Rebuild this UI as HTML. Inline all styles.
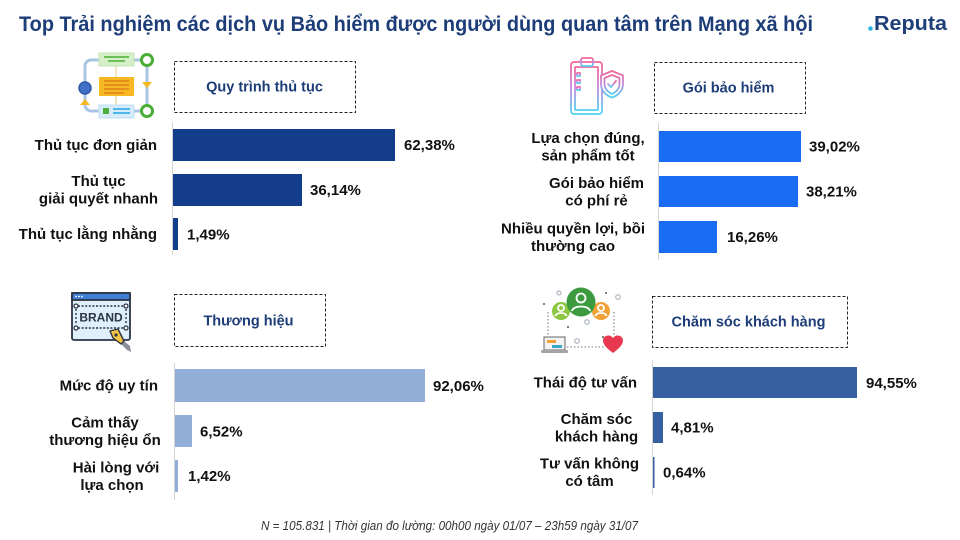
<!DOCTYPE html>
<html>
<head>
<meta charset="utf-8">
<style>
  html,body{margin:0;padding:0;background:#fff;}
  body{width:960px;height:540px;overflow:hidden;}
  svg{display:block;}
  text{font-family:"Liberation Sans","Noto Sans CJK SC",sans-serif;}
  .lbl{font-size:15px;font-weight:bold;fill:#111;}
  .val{font-size:15px;font-weight:bold;fill:#111;}
  .box{font-size:14.5px;font-weight:bold;fill:#1d3d78;}
</style>
</head>
<body>
<svg width="960" height="540" viewBox="0 0 960 540" xmlns="http://www.w3.org/2000/svg">
  <defs>
    <linearGradient id="gpink" x1="0" y1="0" x2="0" y2="1">
      <stop offset="0" stop-color="#f0679a"/>
      <stop offset="0.5" stop-color="#c58bdc"/>
      <stop offset="1" stop-color="#4fd2f0"/>
    </linearGradient>
  </defs>
  <rect width="960" height="540" fill="#fff"/>

  <!-- Title -->
  <text x="19" y="31" font-size="21" font-weight="bold" fill="#1d3d78" textLength="794" lengthAdjust="spacingAndGlyphs">Top Trải nghiệm các dịch vụ Bảo hiểm được người dùng quan tâm trên Mạng xã hội</text>

  <!-- Logo -->
  <circle cx="870.5" cy="28.5" r="2.3" fill="#2bb5e5"/>
  <text x="874" y="30" font-size="20" font-weight="bold" fill="#1e3f78" textLength="73" lengthAdjust="spacingAndGlyphs">Reputa</text>

  <!-- ============ Panel 1 ============ -->
  <!-- icon -->
  <g>
    <rect x="85" y="60" width="62" height="51" rx="6" fill="none" stroke="#a9c5e3" stroke-width="3"/>
    <line x1="116" y1="66" x2="116" y2="105" stroke="#f1dcae" stroke-width="1.5"/>
    <rect x="99" y="53" width="35" height="13" fill="#d6efc9" stroke="#c3e3b5" stroke-width="1"/>
    <line x1="104" y1="57" x2="129" y2="57" stroke="#5cb947" stroke-width="1.8"/>
    <line x1="108" y1="61" x2="125" y2="61" stroke="#5cb947" stroke-width="1.8"/>
    <rect x="99" y="77" width="35" height="19" fill="#f6b823"/>
    <line x1="104" y1="81" x2="129" y2="81" stroke="#e0801c" stroke-width="1.6"/>
    <line x1="104" y1="85" x2="129" y2="85" stroke="#e0801c" stroke-width="1.6"/>
    <line x1="104" y1="89" x2="129" y2="89" stroke="#e0801c" stroke-width="1.6"/>
    <line x1="104" y1="93" x2="124" y2="93" stroke="#e0801c" stroke-width="1.6"/>
    <rect x="99" y="105" width="35" height="13" fill="#d6ecfa" stroke="#c2def0" stroke-width="1"/>
    <rect x="103" y="108" width="6" height="6" fill="#4caf3a"/>
    <line x1="113" y1="109" x2="130" y2="109" stroke="#38b2e6" stroke-width="1.8"/>
    <line x1="113" y1="113" x2="130" y2="113" stroke="#38b2e6" stroke-width="1.8"/>
    <circle cx="147" cy="60" r="5.5" fill="#fff" stroke="#4aad35" stroke-width="3"/>
    <circle cx="147" cy="111" r="5.5" fill="#fff" stroke="#4aad35" stroke-width="3"/>
    <circle cx="85" cy="88" r="6" fill="#3f72c4" stroke="#2e5aa8" stroke-width="1.5"/>
    <polygon points="142,82 152,82 147,88" fill="#f5b820"/>
    <polygon points="80,105 90,105 85,99" fill="#f5b820"/>
  </g>
  <rect x="174.5" y="61.5" width="181" height="51" fill="none" stroke="#222" stroke-width="1" stroke-dasharray="3 2"/>
  <text class="box" x="264.5" y="91.5" text-anchor="middle">Quy trình thủ tục</text>
  <line x1="172.5" y1="122" x2="172.5" y2="255" stroke="#d4d4d4" stroke-width="1"/>
  <rect x="173" y="129" width="222" height="32" fill="#133d8b"/>
  <rect x="173" y="174" width="129" height="32" fill="#133d8b"/>
  <rect x="173" y="218" width="5" height="32" fill="#133d8b"/>
  <text class="lbl" x="157" y="150" text-anchor="end">Thủ tục đơn giản</text>
  <text class="lbl" x="98.5" y="186" text-anchor="middle">Thủ tục</text>
  <text class="lbl" x="98.5" y="203.5" text-anchor="middle">giải quyết nhanh</text>
  <text class="lbl" x="157" y="239" text-anchor="end">Thủ tục lằng nhằng</text>
  <text class="val" x="404" y="150">62,38%</text>
  <text class="val" x="310" y="195">36,14%</text>
  <text class="val" x="187" y="239.5">1,49%</text>

  <!-- ============ Panel 2 ============ -->
  <g fill="none" stroke="url(#gpink)" stroke-width="1.8" stroke-linejoin="round" stroke-linecap="round">
    <rect x="571" y="62" width="31" height="52" rx="3"/>
    <rect x="575" y="67" width="23" height="43" rx="1"/>
    <rect x="581" y="58" width="12" height="8" rx="2"/>
    <rect x="577" y="73" width="3" height="3"/>
    <rect x="577" y="80" width="3" height="3"/>
    <rect x="577" y="87" width="3" height="3"/>
    <line x1="583" y1="74.5" x2="594" y2="74.5"/>
    <line x1="583" y1="81.5" x2="594" y2="81.5"/>
    <line x1="583" y1="88.5" x2="592" y2="88.5"/>
    <line x1="585" y1="103" x2="596" y2="103"/>
    <path d="M612 71 L623 75.5 V84 C623 91 618 95.5 612 97.5 C606 95.5 601 91 601 84 V75.5 Z" fill="#fff"/>
    <path d="M612 75 L619.5 78 V84 C619.5 89 616 92 612 94 C608 92 604.5 89 604.5 84 V78 Z"/>
    <path d="M608 84 L611 87 L616 81"/>
  </g>
  <rect x="654.5" y="62.5" width="151" height="51" fill="none" stroke="#222" stroke-width="1" stroke-dasharray="3 2"/>
  <text class="box" x="728.5" y="92.5" text-anchor="middle">Gói bảo hiểm</text>
  <line x1="658.5" y1="123" x2="658.5" y2="260" stroke="#d4d4d4" stroke-width="1"/>
  <rect x="659" y="131" width="142" height="31" fill="#1a6cf4"/>
  <rect x="659" y="176" width="139" height="31" fill="#1a6cf4"/>
  <rect x="659" y="221" width="58" height="32" fill="#1a6cf4"/>
  <text class="lbl" x="588" y="143" text-anchor="middle">Lựa chọn đúng,</text>
  <text class="lbl" x="588" y="160.5" text-anchor="middle">sản phẩm tốt</text>
  <text class="lbl" x="596.5" y="188" text-anchor="middle">Gói bảo hiểm</text>
  <text class="lbl" x="596.5" y="205.5" text-anchor="middle">có phí rẻ</text>
  <text class="lbl" x="573" y="233.5" text-anchor="middle">Nhiều quyền lợi, bồi</text>
  <text class="lbl" x="573" y="251" text-anchor="middle">thường cao</text>
  <text class="val" x="809" y="151.5">39,02%</text>
  <text class="val" x="806" y="196.5">38,21%</text>
  <text class="val" x="727" y="242">16,26%</text>

  <!-- ============ Panel 3 ============ -->
  <g>
    <rect x="72" y="293" width="58" height="47" rx="2" fill="#dff0fb" stroke="#2b3445" stroke-width="1.8"/>
    <rect x="72" y="293" width="58" height="7" fill="#3f80d6" stroke="#2b3445" stroke-width="1.8"/>
    <circle cx="76" cy="296.5" r="0.9" fill="#fff"/>
    <circle cx="79" cy="296.5" r="0.9" fill="#fff"/>
    <circle cx="82" cy="296.5" r="0.9" fill="#fff"/>
    <line x1="78" y1="306" x2="124" y2="306" stroke="#2b3445" stroke-width="1.4" stroke-dasharray="2 1.6"/>
    <line x1="78" y1="328" x2="124" y2="328" stroke="#2b3445" stroke-width="1.4" stroke-dasharray="2 1.6"/>
    <line x1="76" y1="309" x2="76" y2="325" stroke="#2b3445" stroke-width="1.4" stroke-dasharray="2 2"/>
    <line x1="126" y1="309" x2="126" y2="325" stroke="#2b3445" stroke-width="1.4" stroke-dasharray="2 2"/>
    <circle cx="76" cy="306" r="2" fill="#fff" stroke="#2b3445" stroke-width="1.3"/>
    <circle cx="126" cy="306" r="2" fill="#fff" stroke="#2b3445" stroke-width="1.3"/>
    <circle cx="76" cy="328" r="2" fill="#fff" stroke="#2b3445" stroke-width="1.3"/>
    <circle cx="126" cy="328" r="2" fill="#fff" stroke="#2b3445" stroke-width="1.3"/>
    <text x="101" y="321.5" font-size="12" font-weight="bold" fill="#2b3445" text-anchor="middle">BRAND</text>
    <polygon points="121,344 127,350 131,352 130,346 124,341" fill="#8a8f99"/>
    <path d="M110 331 L118 329 L124 341 L121 344 L113 338 Z" fill="#f4c542" stroke="#2b3445" stroke-width="1.4" stroke-linejoin="round"/>
    <circle cx="116" cy="335" r="1.6" fill="#2b3445"/>
  </g>
  <rect x="174.5" y="294.5" width="151" height="52" fill="none" stroke="#222" stroke-width="1" stroke-dasharray="3 2"/>
  <text class="box" x="248.5" y="325.5" text-anchor="middle">Thương hiệu</text>
  <line x1="174.5" y1="363" x2="174.5" y2="500" stroke="#d4d4d4" stroke-width="1"/>
  <rect x="175" y="369" width="250" height="33" fill="#94afd7"/>
  <rect x="175" y="415" width="17" height="32" fill="#94afd7"/>
  <rect x="175" y="460" width="3" height="32" fill="#94afd7"/>
  <text class="lbl" x="158" y="390.5" text-anchor="end">Mức độ uy tín</text>
  <text class="lbl" x="105" y="427.5" text-anchor="middle">Cảm thấy</text>
  <text class="lbl" x="105" y="445" text-anchor="middle">thương hiệu ổn</text>
  <text class="lbl" x="116" y="472.5" text-anchor="middle">Hài lòng với</text>
  <text class="lbl" x="112" y="490" text-anchor="middle">lựa chọn</text>
  <text class="val" x="433" y="391">92,06%</text>
  <text class="val" x="200" y="436.5">6,52%</text>
  <text class="val" x="188" y="481">1,42%</text>

  <!-- ============ Panel 4 ============ -->
  <g>
    <g stroke="#8a95a5" stroke-width="1.3" stroke-dasharray="1.5 2" fill="none">
      <line x1="548" y1="312" x2="548" y2="337"/>
      <line x1="614" y1="312" x2="614" y2="335"/>
      <line x1="567" y1="347" x2="604" y2="347"/>
    </g>
    <circle cx="561" cy="311" r="9" fill="#8dc641"/>
    <circle cx="601" cy="311" r="9" fill="#f1a136"/>
    <circle cx="581" cy="302" r="14.5" fill="#3d9b3f"/>
    <g fill="none" stroke="#fff" stroke-width="1.8">
      <circle cx="581" cy="298" r="4.5"/>
      <path d="M572 311 C573 305 589 305 590 311"/>
      <circle cx="561" cy="308" r="3"/>
      <path d="M555.5 316 C556 312 566 312 566.5 316"/>
      <circle cx="601" cy="308" r="3"/>
      <path d="M595.5 316 C596 312 606 312 606.5 316"/>
    </g>
    <g fill="none" stroke="#a0a8b4" stroke-width="1">
      <circle cx="559" cy="293" r="2"/>
      <circle cx="618" cy="297" r="2.3"/>
      <circle cx="587" cy="322" r="2.3"/>
      <circle cx="577" cy="341" r="2.3"/>
    </g>
    <g fill="#555">
      <circle cx="544" cy="304" r="1"/>
      <circle cx="606" cy="293" r="1"/>
      <circle cx="568" cy="327" r="1"/>
      <circle cx="603" cy="337" r="1"/>
    </g>
    <rect x="544" y="337" width="21" height="13" fill="#f4f4f4" stroke="#666" stroke-width="1"/>
    <rect x="547" y="340" width="9" height="3" fill="#f0a030"/>
    <rect x="552" y="345" width="10" height="3" fill="#3aa7c9"/>
    <rect x="541" y="350" width="27" height="3" rx="1" fill="#a5a5a5"/>
    <path d="M613 353 C606 348 603 344 603 340.5 C603 337 606 335.5 608.5 335.5 C610.5 335.5 612 336.5 613 338 C614 336.5 615.5 335.5 617.5 335.5 C620 335.5 623 337 623 340.5 C623 344 620 348 613 353 Z" fill="#e8384f"/>
  </g>
  <rect x="652.5" y="296.5" width="195" height="51" fill="none" stroke="#222" stroke-width="1" stroke-dasharray="3 2"/>
  <text class="box" x="748.5" y="326.5" text-anchor="middle">Chăm sóc khách hàng</text>
  <line x1="652.5" y1="360" x2="652.5" y2="495" stroke="#d4d4d4" stroke-width="1"/>
  <rect x="653" y="367" width="204" height="31" fill="#36609f"/>
  <rect x="653" y="412" width="10" height="31" fill="#36609f"/>
  <rect x="653" y="457" width="1.5" height="31" fill="#36609f"/>
  <text class="lbl" x="637" y="387.5" text-anchor="end">Thái độ tư vấn</text>
  <text class="lbl" x="596.5" y="424" text-anchor="middle">Chăm sóc</text>
  <text class="lbl" x="596.5" y="441.5" text-anchor="middle">khách hàng</text>
  <text class="lbl" x="589.5" y="468.5" text-anchor="middle">Tư vấn không</text>
  <text class="lbl" x="589.5" y="486" text-anchor="middle">có tâm</text>
  <text class="val" x="866" y="388">94,55%</text>
  <text class="val" x="671" y="432.5">4,81%</text>
  <text class="val" x="663" y="477.5">0,64%</text>

  <!-- Footnote -->
  <text x="261" y="530" font-size="13" font-style="italic" fill="#333" textLength="377" lengthAdjust="spacingAndGlyphs">N = 105.831 | Thời gian đo lường: 00h00 ngày 01/07 – 23h59 ngày 31/07</text>
</svg>
</body>
</html>
